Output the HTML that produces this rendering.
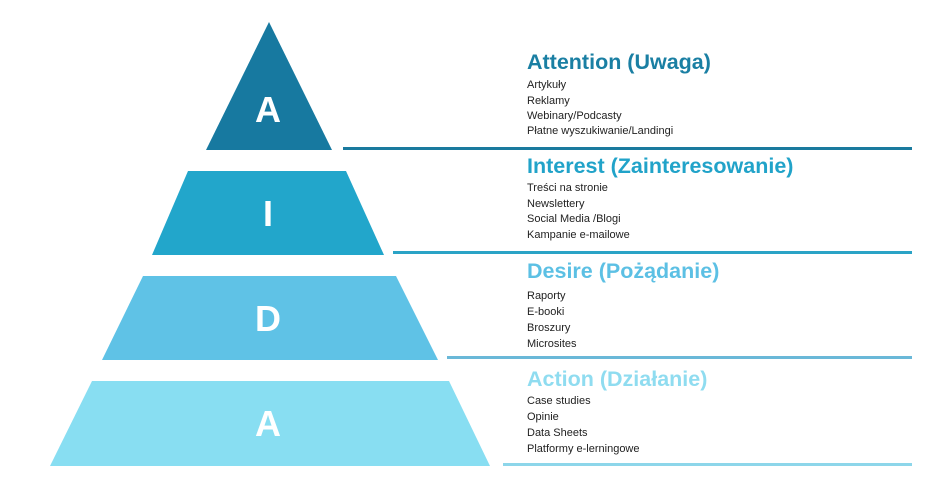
<!DOCTYPE html>
<html><head><meta charset="utf-8"><style>
body{margin:0;background:#fff;width:950px;height:501px;overflow:hidden}
svg{display:block}
.t{font-family:"Liberation Sans",sans-serif;font-weight:bold;font-size:21.5px}
.i{font-family:"Liberation Sans",sans-serif;font-size:11px;fill:#222}
.L{font-family:"Liberation Sans",sans-serif;font-weight:bold;font-size:36px;fill:#fff}
</style></head><body>
<svg width="950" height="501" viewBox="0 0 950 501">
<polygon points="269,22 332,150 206,150" fill="#1779a0"/>
<polygon points="188,171 346,171 384,255 152,255" fill="#22a6cb"/>
<polygon points="143,276 396,276 438,360 102,360" fill="#5fc2e6"/>
<polygon points="92,381 449,381 490,466 50,466" fill="#88def2"/>
<text class="L" x="268" y="122" text-anchor="middle">A</text>
<text class="L" x="268" y="226" text-anchor="middle">I</text>
<text class="L" x="268" y="331" text-anchor="middle">D</text>
<text class="L" x="268" y="436" text-anchor="middle">A</text>
<rect x="343" y="147" width="569" height="3" fill="#1a7a9e"/>
<rect x="393" y="251" width="519" height="3" fill="#2aa3c6"/>
<rect x="447" y="356" width="465" height="3" fill="#6ab8d8"/>
<rect x="503" y="463" width="409" height="3" fill="#8dd6ea"/>
<text class="t" x="527" y="69" fill="#1a7fa3">Attention (Uwaga)</text>
<text class="i" x="527" y="88">Artykuły</text>
<text class="i" x="527" y="104">Reklamy</text>
<text class="i" x="527" y="119">Webinary/Podcasty</text>
<text class="i" x="527" y="134">Płatne wyszukiwanie/Landingi</text>
<text class="t" x="527" y="173" fill="#21a3c9">Interest (Zainteresowanie)</text>
<text class="i" x="527" y="191">Treści na stronie</text>
<text class="i" x="527" y="207">Newslettery</text>
<text class="i" x="527" y="222">Social Media /Blogi</text>
<text class="i" x="527" y="238">Kampanie e-mailowe</text>
<text class="t" x="527" y="278" fill="#5cc0e4">Desire (Pożądanie)</text>
<text class="i" x="527" y="299">Raporty</text>
<text class="i" x="527" y="315">E-booki</text>
<text class="i" x="527" y="331">Broszury</text>
<text class="i" x="527" y="347">Microsites</text>
<text class="t" x="527" y="386" fill="#8fdcf0">Action (Działanie)</text>
<text class="i" x="527" y="404">Case studies</text>
<text class="i" x="527" y="420">Opinie</text>
<text class="i" x="527" y="436">Data Sheets</text>
<text class="i" x="527" y="452">Platformy e-lerningowe</text>
</svg>
</body></html>
